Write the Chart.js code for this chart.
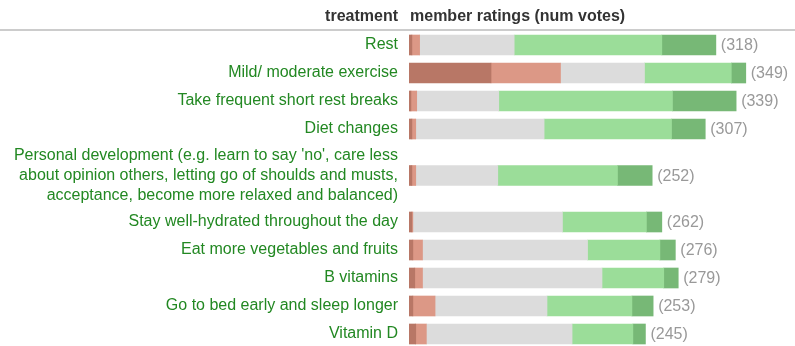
<!DOCTYPE html>
<html>
<head>
<meta charset="utf-8">
<script src="https://cdn.jsdelivr.net/npm/chart.js@4/dist/chart.umd.min.js"></script>
<style>
  html, body { margin: 0; padding: 0; overflow: hidden; background: #fff; }
  #wrap { position: relative; width: 795px; height: 348px; }
</style>
</head>
<body>
<div id="wrap"><canvas id="chartRatings"></canvas></div>
<script>
// ─── data ────────────────────────────────────────────────────────────────────
const treatments = [
  'Rest',
  'Mild/ moderate exercise',
  'Take frequent short rest breaks',
  'Diet changes',
  ["Personal development (e.g. learn to say 'no', care less",
   'about opinion others, letting go of shoulds and musts,',
   'acceptance, become more relaxed and balanced)'],
  'Stay well-hydrated throughout the day',
  'Eat more vegetables and fruits',
  'B vitamins',
  'Go to bed early and sleep longer',
  'Vitamin D',
];
const muchWorse   = [3, 85, 2, 3, 3, 3, 4, 6, 4, 7];
const worse       = [8, 72, 6, 4, 4, 1, 10, 8, 23, 11];
const noChange    = [98, 87, 85, 133, 85, 155, 171, 186, 116, 151];
const better      = [153, 90, 180, 132, 124, 87, 75, 64, 88, 63];
const muchBetter  = [56, 15, 66, 35, 36, 16, 16, 15, 22, 13];
const numVotes    = [318, 349, 339, 307, 252, 262, 276, 279, 253, 245];

const headerLeft  = 'treatment';
const headerRight = 'member ratings (num votes)';

// ─── row layout (rows grow with the number of label lines) ───────────────────
const ROW_PAD = 9.5, LINE_H = 18.5, TOP = 31, LABEL_W = 409;
const rowCenters = [];
let acc = 0;
treatments.forEach(t => {
  const lines = Array.isArray(t) ? t.length : 1;
  const h = ROW_PAD + LINE_H * lines;
  rowCenters.push(acc + h / 2);
  acc += h;
});
const totalH = acc;

const FONT = "Arial, 'Liberation Sans', sans-serif";
const series = [
  { label: 'much worse',  data: muchWorse,  color: '#b87766' },
  { label: 'worse',       data: worse,      color: '#dc9886' },
  { label: 'no change',   data: noChange,   color: '#dcdcdc' },
  { label: 'better',      data: better,     color: '#9bdd99' },
  { label: 'much better', data: muchBetter, color: '#77b876' },
];

// header text + rule above the rows
const headerPlugin = {
  id: 'header',
  afterDraw(chart) {
    const { ctx, width } = chart;
    ctx.save();
    ctx.fillStyle = '#333';
    ctx.font = `bold 16px ${FONT}`;
    ctx.textBaseline = 'alphabetic';
    ctx.textAlign = 'right';
    ctx.fillText(headerLeft, LABEL_W - 11, 21);
    ctx.textAlign = 'left';
    ctx.fillText(headerRight, LABEL_W + 1, 21);
    ctx.fillStyle = '#cccccc';
    ctx.fillRect(0, 29, width, 2);
    ctx.restore();
  },
};

// "(n)" vote count after each bar
const countPlugin = {
  id: 'counts',
  afterDatasetsDraw(chart) {
    const { ctx } = chart;
    const last = chart.getDatasetMeta(series.length - 1);
    ctx.save();
    ctx.fillStyle = '#999';
    ctx.font = `16px ${FONT}`;
    ctx.textAlign = 'left';
    ctx.textBaseline = 'middle';
    last.data.forEach((bar, i) => {
      ctx.fillText(`(${numVotes[i]})`, bar.x + 5, bar.y + 1);
    });
    ctx.restore();
  },
};

new Chart(document.getElementById('chartRatings'), {
  type: 'bar',
  data: {
    datasets: series.map(s => ({
      label: s.label,
      data: s.data.map((v, i) => ({ x: v, y: rowCenters[i] })),
      backgroundColor: s.color,
      borderWidth: 0,
      barThickness: 20,
    })),
  },
  options: {
    indexAxis: 'y',
    responsive: true, maintainAspectRatio: false, animation: false,
    layout: { padding: { top: TOP, left: 0, right: 0, bottom: 0 } },
    plugins: { legend: { display: false }, tooltip: { enabled: false } },
    scales: {
      x: { type: 'linear', stacked: true, min: 0, max: 400, display: false },
      y: {
        type: 'linear', stacked: true, reverse: true, min: 0, max: totalH, offset: false,
        grid: { display: false, drawTicks: false, tickLength: 0, offset: false }, border: { display: false },
        afterBuildTicks: scale => { scale.ticks = rowCenters.map(v => ({ value: v })); },
        afterFit: scale => { scale.width = LABEL_W; scale.paddingTop = 0; scale.paddingBottom = 0; },
        ticks: {
          autoSkip: false, padding: 11, color: '#228822',
          font: { family: FONT, size: 16, lineHeight: 20 / 16 },
          callback: (v, i) => treatments[i],
        },
      },
    },
  },
  plugins: [headerPlugin, countPlugin],
});
</script>
</body>
</html>
